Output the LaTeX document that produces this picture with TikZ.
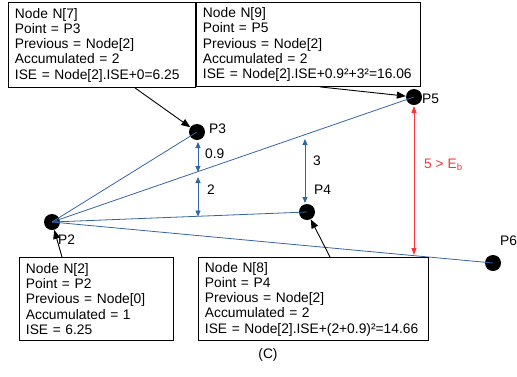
\documentclass[tikz,border=0pt]{standalone}
\usepackage{fontspec}
\setmainfont{Liberation Sans}
\usetikzlibrary{arrows.meta,calc}
\definecolor{lblue}{RGB}{52,101,164}
\definecolor{lred}{RGB}{255,51,51}
\begin{document}
\begin{tikzpicture}[x=1pt,y=-1pt,
  every node/.style={font=\fontsize{13.8}{15.25}\selectfont},
  infobox/.style={draw=black,line width=0.9pt,anchor=north west,align=left,inner xsep=6.5pt,inner ysep=0pt},
  dot/.style={circle,fill=black,minimum size=16pt,inner sep=0pt},
  ptlabel/.style={anchor=base west,inner sep=0pt},
  link/.style={draw=lblue,line width=0.8pt},
  meas/.style={draw=lblue,line width=0.9pt,{Triangle[length=6pt,width=5pt]}-{Triangle[length=6pt,width=5pt]}},
  pointer/.style={draw=black,line width=0.9pt,-{Triangle[length=9pt,width=7pt]}},
  redmeas/.style={draw=lred,line width=0.9pt,{Triangle[length=7pt,width=5pt]}-{Triangle[length=7pt,width=5pt]}}
]
\useasboundingbox (0,0) rectangle (517,376);

% dots
\node[dot] (p2) at (52,222) {};
\node[dot] (p3) at (197,132) {};
\node[dot] (p4) at (307,212) {};
\node[dot] (p5) at (414,97) {};
\node[dot] (p6) at (493,263) {};

% point labels
\node[ptlabel] (l2) at (58,244) {P2};
\node[ptlabel] (l3) at (209,133) {P3};
\node[ptlabel] (l4) at (314,194) {P4};
\node[ptlabel] (l5) at (422,103) {P5};
\node[ptlabel] (l6) at (500,245) {P6};

% blue links
\draw[link] (p2.center) -- (p3.center);
\draw[link] (p2.center) -- (p5.center);
\draw[link] (p2.center) -- (p4.center);
\draw[link] (p2.center) -- (p6.center);

% measurement arrows
\coordinate (m1a) at (198,142);
\coordinate (m1b) at (198,172);
\coordinate (m2a) at (198,177);
\coordinate (m2b) at (198,216.5);
\coordinate (m3a) at (305,139);
\coordinate (m3b) at (305,203);
\coordinate (m4a) at (414,106);
\coordinate (m4b) at (414,255);
\draw[meas] (m1a) -- (m1b);
\draw[meas] (m2a) -- (m2b);
\draw[meas] (m3a) -- (m3b);
\draw[redmeas] (m4a) -- (m4b);
\node[ptlabel] (t09) at (205,158) {0.9};
\node[ptlabel] (t2) at (207,194) {2};
\node[ptlabel] (t3) at (313,165) {3};
\node[ptlabel,text=lred] (t5) at (424,168) {5 > E\textsubscript{b}};

% info boxes
\node[infobox,minimum width=187pt,minimum height=85pt,text width=174pt] (n7) at (8,2)
 {Node N[7]\\Point = P3\\Previous = Node[2]\\Accumulated = 2\\\mbox{ISE = Node[2].ISE+0=6.25}};
\node[infobox,minimum width=224pt,minimum height=84pt,text width=211pt] (n9) at (196,2)
 {Node N[9]\\Point = P5\\Previous = Node[2]\\Accumulated = 2\\\mbox{ISE = Node[2].ISE+0.9²+3²=16.06}};
\node[infobox,minimum width=154pt,minimum height=83pt,text width=141pt] (n2) at (19,257)
 {Node N[2]\\Point = P2\\Previous = Node[0]\\Accumulated = 1\\ISE = 6.25};
\node[infobox,minimum width=230pt,minimum height=83pt,text width=217pt] (n8) at (198,257)
 {Node N[8]\\Point = P4\\Previous = Node[2]\\Accumulated = 2\\\mbox{ISE = Node[2].ISE+(2+0.9)²=14.66}};

% pointers
\draw[pointer] ($(n7.south west)+(127,0)$) -- (p3);
\draw[pointer] ($(n9.south west)+(124,0)$) -- (p5);
\draw[pointer] ($(n2.north west)+(43,0)$) -- (p2);
\draw[pointer] ($(n8.north west)+(132,0)$) -- (p4);

\node (cap) at (268,355) {(C)};
\end{tikzpicture}
\end{document}
